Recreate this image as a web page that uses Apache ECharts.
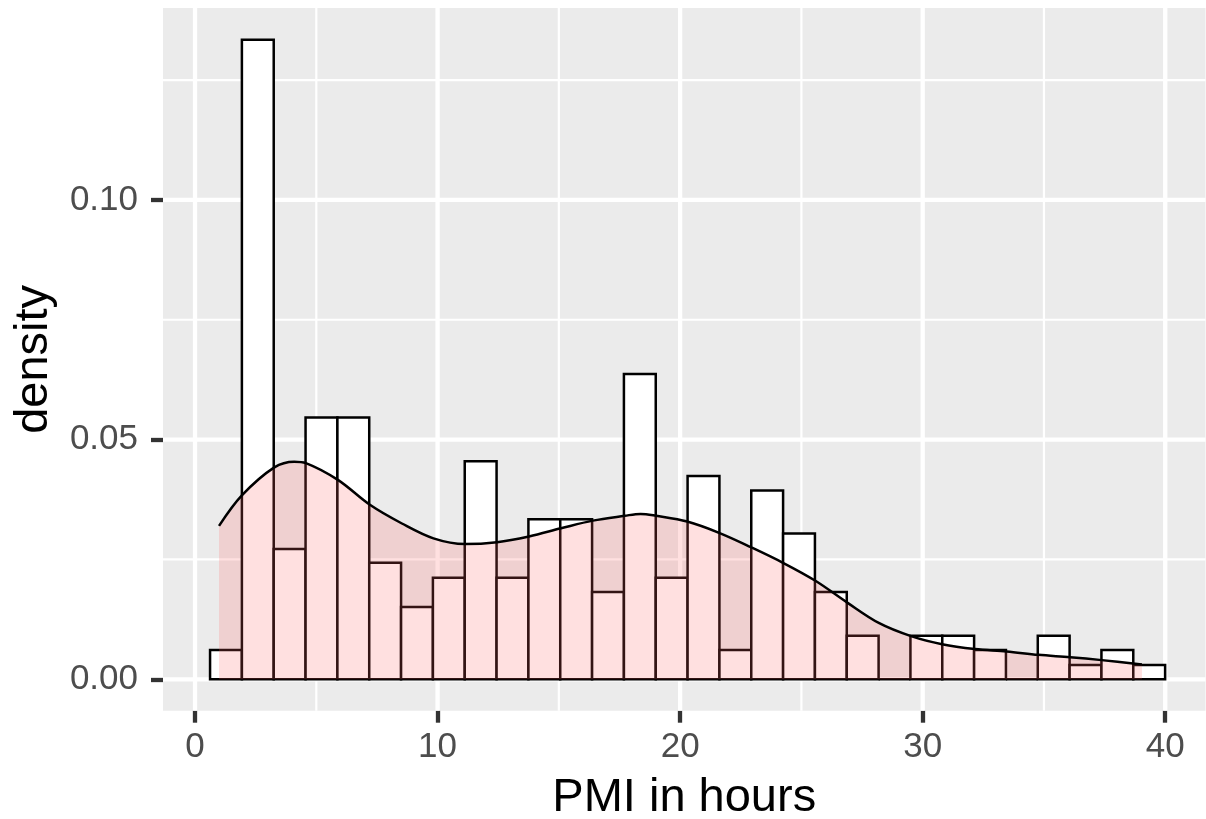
<!DOCTYPE html>
<html>
<head>
<meta charset="utf-8">
<script src="https://cdn.jsdelivr.net/npm/echarts@6/dist/echarts.min.js"></script>
<style>
html,body{margin:0;padding:0;background:#fff;}
#chart{width:1206px;height:819px;}
</style>
</head>
<body>
<div id="chart"></div>
<script>
// ---- data ----
const binStart = 0.62;      // left edge of first histogram bin (hours)
const binWidth = 1.3125;    // histogram bin width (hours)
const binDensity = [0.0061, 0.1334, 0.0272, 0.0546, 0.0546, 0.0243, 0.0151, 0.0212, 0.0455, 0.0212,
                    0.0334, 0.0334, 0.0182, 0.0637, 0.0212, 0.0424, 0.0061, 0.0394, 0.0304, 0.0182,
                    0.0091, 0.0000, 0.0091, 0.0091, 0.0061, 0.0000, 0.0091, 0.0030, 0.0061, 0.0030];
const densityX = [0.99, 1.94, 3.27, 4.09, 4.57, 5.89, 7.21, 8.53, 9.83, 11.13, 12.45, 13.77, 15.09, 16.40,
                  17.71, 18.37, 19.01, 20.29, 21.63, 22.94, 24.24, 25.56, 26.89, 28.21, 29.52, 30.80,
                  32.15, 33.46, 34.77, 36.08, 37.38, 39.04];
const densityY = [0.0320, 0.0384, 0.0442, 0.0454, 0.0451, 0.0416, 0.0364, 0.0325, 0.0294, 0.0282, 0.0286,
                  0.0298, 0.0315, 0.0331, 0.0341, 0.0345, 0.0341, 0.0329, 0.0305, 0.0275, 0.0243, 0.0206,
                  0.0160, 0.0117, 0.0090, 0.0073, 0.0063, 0.0058, 0.0051, 0.0046, 0.0040, 0.0031];
const xTicks = [0, 10, 20, 30, 40];
const xMinor = [5, 15, 25, 35];
const yTicks = [0, 0.05, 0.10];
const yMinor = [0.025, 0.075, 0.125];
const xTitle = 'PMI in hours';
const yTitle = 'density';

const FONT = '"Liberation Sans", Arial, Helvetica, sans-serif';

function gridSeries(values, vertical, width) {
  return {
    type: 'custom', z: 1, silent: true, clip: false,
    data: values.map(v => vertical ? [v, 0] : [0, v]),
    renderItem: function (params, api) {
      const cs = params.coordSys;
      if (vertical) {
        const x = api.coord([api.value(0), 0])[0];
        return {type: 'line', shape: {x1: x, y1: cs.y, x2: x, y2: cs.y + cs.height},
                style: {stroke: '#FFFFFF', lineWidth: width}};
      } else {
        const y = api.coord([0, api.value(1)])[1];
        return {type: 'line', shape: {x1: cs.x, y1: y, x2: cs.x + cs.width, y2: y},
                style: {stroke: '#FFFFFF', lineWidth: width}};
      }
    }
  };
}

const histData = binDensity.map((d, i) => [binStart + i * binWidth, binStart + (i + 1) * binWidth, d]);
const densData = densityX.map((x, i) => [x, densityY[i]]);

const chart = echarts.init(document.getElementById('chart'), null, {renderer: 'canvas'});
chart.setOption({
  animation: false,
  backgroundColor: '#FFFFFF',
  grid: {left: 163, top: 8, right: 0.5, bottom: 108.3, show: true, backgroundColor: '#EBEBEB', borderWidth: 0,
         containLabel: false, outerBoundsMode: 'none'},
  xAxis: {
    type: 'value', min: -1.32, max: 41.66,
    axisLine: {show: false, onZero: false},
    splitLine: {show: false},
    axisTick: {show: true, customValues: xTicks, length: 12, lineStyle: {color: '#333333', width: 4.3}},
    axisLabel: {customValues: xTicks, color: '#4D4D4D', fontSize: 35, margin: 19, fontFamily: FONT},
    name: xTitle, nameLocation: 'middle', nameGap: 64,
    nameTextStyle: {fontSize: 47, color: '#000000', fontFamily: FONT}
  },
  yAxis: {
    type: 'value', min: -0.00655, max: 0.14003,
    axisLine: {show: false, onZero: false},
    splitLine: {show: false},
    axisTick: {show: true, customValues: yTicks, length: 12, lineStyle: {color: '#333333', width: 4.3}},
    axisLabel: {customValues: yTicks, color: '#4D4D4D', fontSize: 35, margin: 25, fontFamily: FONT,
                formatter: v => Number(v).toFixed(2)},
    name: yTitle, nameLocation: 'middle', nameGap: 105, nameRotate: 90,
    nameTextStyle: {fontSize: 47, color: '#000000', fontFamily: FONT}
  },
  series: [
    gridSeries(xMinor, true, 2.2),
    gridSeries(yMinor, false, 2.2),
    gridSeries(xTicks, true, 4.3),
    gridSeries(yTicks, false, 4.3),
    {
      type: 'custom', z: 2, silent: true,
      data: histData,
      encode: {x: [0, 1], y: 2},
      renderItem: function (params, api) {
        const p0 = api.coord([api.value(0), api.value(2)]);
        const p1 = api.coord([api.value(1), 0]);
        return {type: 'rect',
                shape: {x: p0[0], y: p0[1], width: p1[0] - p0[0], height: p1[1] - p0[1]},
                style: {fill: '#FFFFFF', stroke: '#000000', lineWidth: 2.5}};
      }
    },
    {
      type: 'line', z: 3, silent: true,
      data: densData,
      smooth: 0.35,
      symbol: 'none', showSymbol: false,
      lineStyle: {color: '#000000', width: 2.5},
      areaStyle: {color: 'rgba(255,102,102,0.2)', opacity: 1}
    }
  ]
});
</script>
</body>
</html>
